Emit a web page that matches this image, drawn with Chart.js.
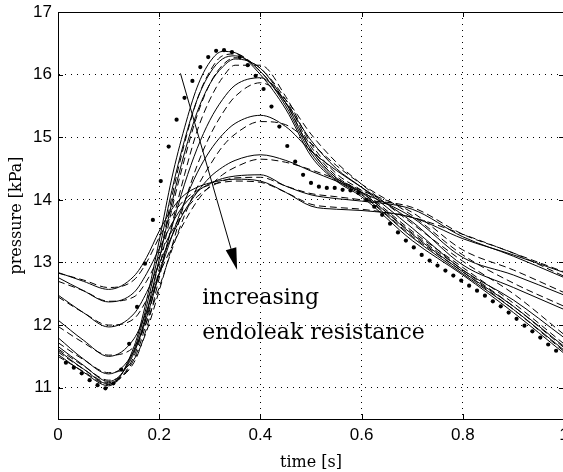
<!DOCTYPE html>
<html>
<head>
<meta charset="utf-8">
<script src="https://cdn.jsdelivr.net/npm/chart.js@4.4.1/dist/chart.umd.min.js"></script>
<style>
html, body { margin: 0; padding: 0; background: #fff; overflow: hidden; }
canvas { display: block; }
</style>
</head>
<body>
<canvas id="mainChart" width="568" height="472"></canvas>
<script>
// time grid of the model curves [s]
var times = [0, 0.05, 0.1, 0.15, 0.175, 0.2, 0.225, 0.25, 0.275, 0.3, 0.325, 0.35, 0.4, 0.45, 0.5, 0.55, 0.6, 0.7, 0.8, 0.9, 1.0];

// solid curves [kPa], from low to high endoleak resistance
var solid1 = [12.84, 12.70, 12.57, 12.78, 13.08, 13.50, 13.85, 14.08, 14.20, 14.27, 14.31, 14.33, 14.30, 14.12, 13.90, 13.85, 13.83, 13.72, 13.38, 13.12, 12.84];
var solid2 = [12.76, 12.55, 12.37, 12.52, 12.82, 13.22, 13.62, 13.93, 14.13, 14.26, 14.34, 14.38, 14.40, 14.22, 14.08, 14.02, 13.98, 13.85, 13.41, 13.10, 12.76];
var solid3 = [12.48, 12.20, 11.97, 12.18, 12.52, 12.98, 13.42, 13.82, 14.12, 14.36, 14.52, 14.63, 14.72, 14.63, 14.46, 14.30, 14.12, 13.72, 13.08, 12.80, 12.48];
var solid4 = [12.08, 11.76, 11.50, 11.78, 12.22, 12.82, 13.42, 13.97, 14.43, 14.78, 15.04, 15.22, 15.35, 15.17, 14.78, 14.47, 14.20, 13.65, 12.96, 12.60, 12.25];
var solid5 = [11.80, 11.46, 11.22, 11.58, 12.12, 12.82, 13.56, 14.25, 14.82, 15.27, 15.60, 15.83, 15.95, 15.55, 14.95, 14.50, 14.20, 13.55, 12.88, 12.40, 11.80];
var solid6 = [11.66, 11.36, 11.10, 11.55, 12.20, 13.05, 13.95, 14.75, 15.40, 15.85, 16.12, 16.25, 16.10, 15.55, 14.80, 14.35, 14.12, 13.45, 12.85, 12.30, 11.66];
var solid7 = [11.60, 11.30, 11.06, 11.60, 12.30, 13.20, 14.15, 14.95, 15.60, 16.02, 16.25, 16.30, 16.05, 15.50, 14.75, 14.32, 14.08, 13.40, 12.82, 12.25, 11.60];
var solid8 = [11.53, 11.25, 11.03, 11.65, 12.40, 13.35, 14.35, 15.15, 15.80, 16.20, 16.37, 16.35, 16.00, 15.45, 14.70, 14.30, 14.05, 13.35, 12.80, 12.20, 11.55];

// dashed curves [kPa]
var dashed1 = [12.83, 12.72, 12.60, 12.72, 13.00, 13.40, 13.75, 14.00, 14.15, 14.24, 14.28, 14.30, 14.28, 14.12, 13.93, 13.88, 13.85, 13.72, 13.45, 13.15, 12.85];
var dashed2 = [12.70, 12.55, 12.38, 12.45, 12.70, 13.10, 13.50, 13.82, 14.05, 14.20, 14.30, 14.35, 14.36, 14.22, 14.10, 14.05, 14.00, 13.88, 13.45, 13.15, 12.78];
var dashed3 = [12.45, 12.20, 12.00, 12.10, 12.40, 12.82, 13.25, 13.65, 13.98, 14.22, 14.40, 14.52, 14.65, 14.60, 14.48, 14.33, 14.15, 13.80, 13.20, 12.88, 12.52];
var dashed4 = [11.98, 11.72, 11.52, 11.65, 12.05, 12.60, 13.20, 13.75, 14.20, 14.55, 14.85, 15.05, 15.25, 15.20, 14.90, 14.55, 14.25, 13.75, 13.12, 12.67, 12.30];
var dashed5 = [11.72, 11.45, 11.24, 11.45, 11.90, 12.55, 13.25, 13.95, 14.55, 15.02, 15.38, 15.65, 15.87, 15.60, 15.05, 14.60, 14.25, 13.62, 13.02, 12.50, 11.85];
var dashed6 = [11.62, 11.35, 11.12, 11.40, 11.95, 12.75, 13.60, 14.40, 15.10, 15.60, 15.95, 16.15, 16.15, 15.65, 14.90, 14.42, 14.15, 13.50, 12.92, 12.35, 11.70];
var dashed7 = [11.57, 11.30, 11.08, 11.45, 12.05, 12.90, 13.85, 14.65, 15.35, 15.85, 16.15, 16.27, 16.10, 15.60, 14.85, 14.38, 14.12, 13.47, 12.88, 12.30, 11.64];
var dashed8 = [11.50, 11.26, 11.05, 11.50, 12.15, 13.05, 14.05, 14.90, 15.60, 16.05, 16.30, 16.33, 16.05, 15.55, 14.80, 14.35, 14.10, 13.42, 12.85, 12.25, 11.58];

// measured pressure, one sample every 1/64 s (samples 1..63)
var sampleStep = 1 / 64;
var measured = [11.40, 11.32, 11.23, 11.12, 11.04, 10.99, 11.07, 11.29, 11.70, 12.29, 12.98, 13.68, 14.30, 14.85, 15.28, 15.63,
  15.90, 16.12, 16.28, 16.38, 16.39, 16.36, 16.28, 16.15, 15.98, 15.77, 15.49, 15.17, 14.86, 14.61, 14.40, 14.27,
  14.21, 14.19, 14.19, 14.16, 14.15, 14.11, 14.00, 13.89, 13.76, 13.62, 13.48, 13.35, 13.24, 13.12, 13.03, 12.95,
  12.87, 12.79, 12.71, 12.63, 12.55, 12.47, 12.38, 12.30, 12.20, 12.10, 11.99, 11.90, 11.80, 11.69, 11.59];

var xTicks = [0, 0.2, 0.4, 0.6, 0.8, 1];
var yTicks = [11, 12, 13, 14, 15, 16, 17];

// annotation: arrow and label, in data units
var arrowFrom = [0.242, 16.02];
var arrowTo = [0.354, 12.88];
var noteLines = ['increasing', 'endoleak resistance'];
var notePos = [0.285, 12.33];

function pts(vals) {
  return vals.map(function (v, i) { return { x: times[i], y: v }; });
}

var datasets = [{
  label: 'measured',
  data: measured.map(function (v, i) { return { x: (i + 1) * sampleStep, y: v }; }),
  showLine: false,
  pointRadius: 2.1,
  pointBackgroundColor: '#000',
  pointBorderWidth: 0
}];

[solid1, solid2, solid3, solid4, solid5, solid6, solid7, solid8].forEach(function (s, i) {
  datasets.push({
    label: 'model ' + (i + 1),
    data: pts(s),
    showLine: true,
    borderColor: '#000',
    borderWidth: 1,
    pointRadius: 0,
    cubicInterpolationMode: 'monotone'
  });
});
[dashed1, dashed2, dashed3, dashed4, dashed5, dashed6, dashed7, dashed8].forEach(function (s, i) {
  datasets.push({
    label: 'model ' + (i + 1) + ' (dashed)',
    data: pts(s),
    showLine: true,
    borderColor: '#000',
    borderWidth: 1,
    borderDash: [7, 4],
    pointRadius: 0,
    cubicInterpolationMode: 'monotone'
  });
});

var extras = {
  id: 'extras',
  afterDraw: function (chart) {
    var ctx = chart.ctx, xs = chart.scales.x, ys = chart.scales.y, a = chart.chartArea;
    ctx.save();
    ctx.strokeStyle = '#000';
    ctx.lineWidth = 1;
    ctx.beginPath();
    ctx.moveTo(a.left, a.top + 0.5);
    ctx.lineTo(a.right, a.top + 0.5);
    xTicks.forEach(function (v) {
      var px = Math.round(xs.getPixelForValue(v)) + 0.5;
      ctx.moveTo(px, a.bottom); ctx.lineTo(px, a.bottom - 5);
      ctx.moveTo(px, a.top); ctx.lineTo(px, a.top + 5);
    });
    yTicks.forEach(function (v) {
      var py = Math.round(ys.getPixelForValue(v)) + 0.5;
      ctx.moveTo(a.left, py); ctx.lineTo(a.left + 5, py);
      ctx.moveTo(a.right, py); ctx.lineTo(a.right - 5, py);
    });
    ctx.stroke();

    // arrow
    var x0 = xs.getPixelForValue(arrowFrom[0]), y0 = ys.getPixelForValue(arrowFrom[1]);
    var x1 = xs.getPixelForValue(arrowTo[0]), y1 = ys.getPixelForValue(arrowTo[1]);
    var ang = Math.atan2(y1 - y0, x1 - x0);
    var hl = 22, hw = 5.5;
    var bx = x1 - hl * Math.cos(ang), by = y1 - hl * Math.sin(ang);
    ctx.beginPath();
    ctx.moveTo(x0, y0);
    ctx.lineTo(bx, by);
    ctx.stroke();
    ctx.fillStyle = '#000';
    ctx.beginPath();
    ctx.moveTo(x1, y1);
    ctx.lineTo(bx + hw * Math.sin(ang), by - hw * Math.cos(ang));
    ctx.lineTo(bx - hw * Math.sin(ang), by + hw * Math.cos(ang));
    ctx.closePath();
    ctx.fill();

    // label
    ctx.font = '22px "DejaVu Serif"';
    ctx.textAlign = 'left';
    ctx.textBaseline = 'alphabetic';
    var tx = xs.getPixelForValue(notePos[0]), ty = ys.getPixelForValue(notePos[1]);
    noteLines.forEach(function (t, i) { ctx.fillText(t, tx, ty + i * 35); });
    ctx.restore();
  }
};

var chart = new Chart(document.getElementById('mainChart'), {
  type: 'scatter',
  data: { datasets: datasets },
  options: {
    responsive: false,
    animation: false,
    layout: { padding: { top: 12, right: 0, left: 0, bottom: 0 } },
    plugins: { legend: { display: false }, tooltip: { enabled: false } },
    scales: {
      x: {
        type: 'linear', min: 0, max: 1,
        afterBuildTicks: function (s) { s.ticks = xTicks.map(function (v) { return { value: v }; }); },
        afterFit: function (s) { s.height = 53; s.paddingLeft = 0; s.paddingRight = 0; },
        ticks: {
          color: '#000', padding: 6,
          font: { family: '"Liberation Sans", Arial, sans-serif', size: 17 },
          callback: function (v) { return String(+v.toFixed(1)); }
        },
        grid: { color: '#000', lineWidth: 1, drawTicks: false },
        border: { display: true, color: '#000', width: 1, dash: [1, 5] },
        title: {
          display: true, text: 'time [s]', color: '#000', padding: { top: 0, bottom: 0 },
          font: { family: '"DejaVu Serif", serif', size: 16 }
        }
      },
      y: {
        type: 'linear', min: 10.5, max: 17,
        afterBuildTicks: function (s) { s.ticks = yTicks.map(function (v) { return { value: v }; }); },
        afterFit: function (s) { s.width = 58; s.paddingTop = 0; s.paddingBottom = 0; },
        ticks: {
          color: '#000', padding: 6,
          font: { family: '"Liberation Sans", Arial, sans-serif', size: 17 }
        },
        grid: { color: '#000', lineWidth: 1, drawTicks: false },
        border: { display: true, color: '#000', width: 1, dash: [1, 5] },
        title: {
          display: true, text: 'pressure [kPa]', color: '#000', padding: { top: 7.5, bottom: 0 },
          font: { family: '"DejaVu Serif", serif', size: 16 }
        }
      }
    }
  },
  plugins: [extras]
});
</script>
</body>
</html>
